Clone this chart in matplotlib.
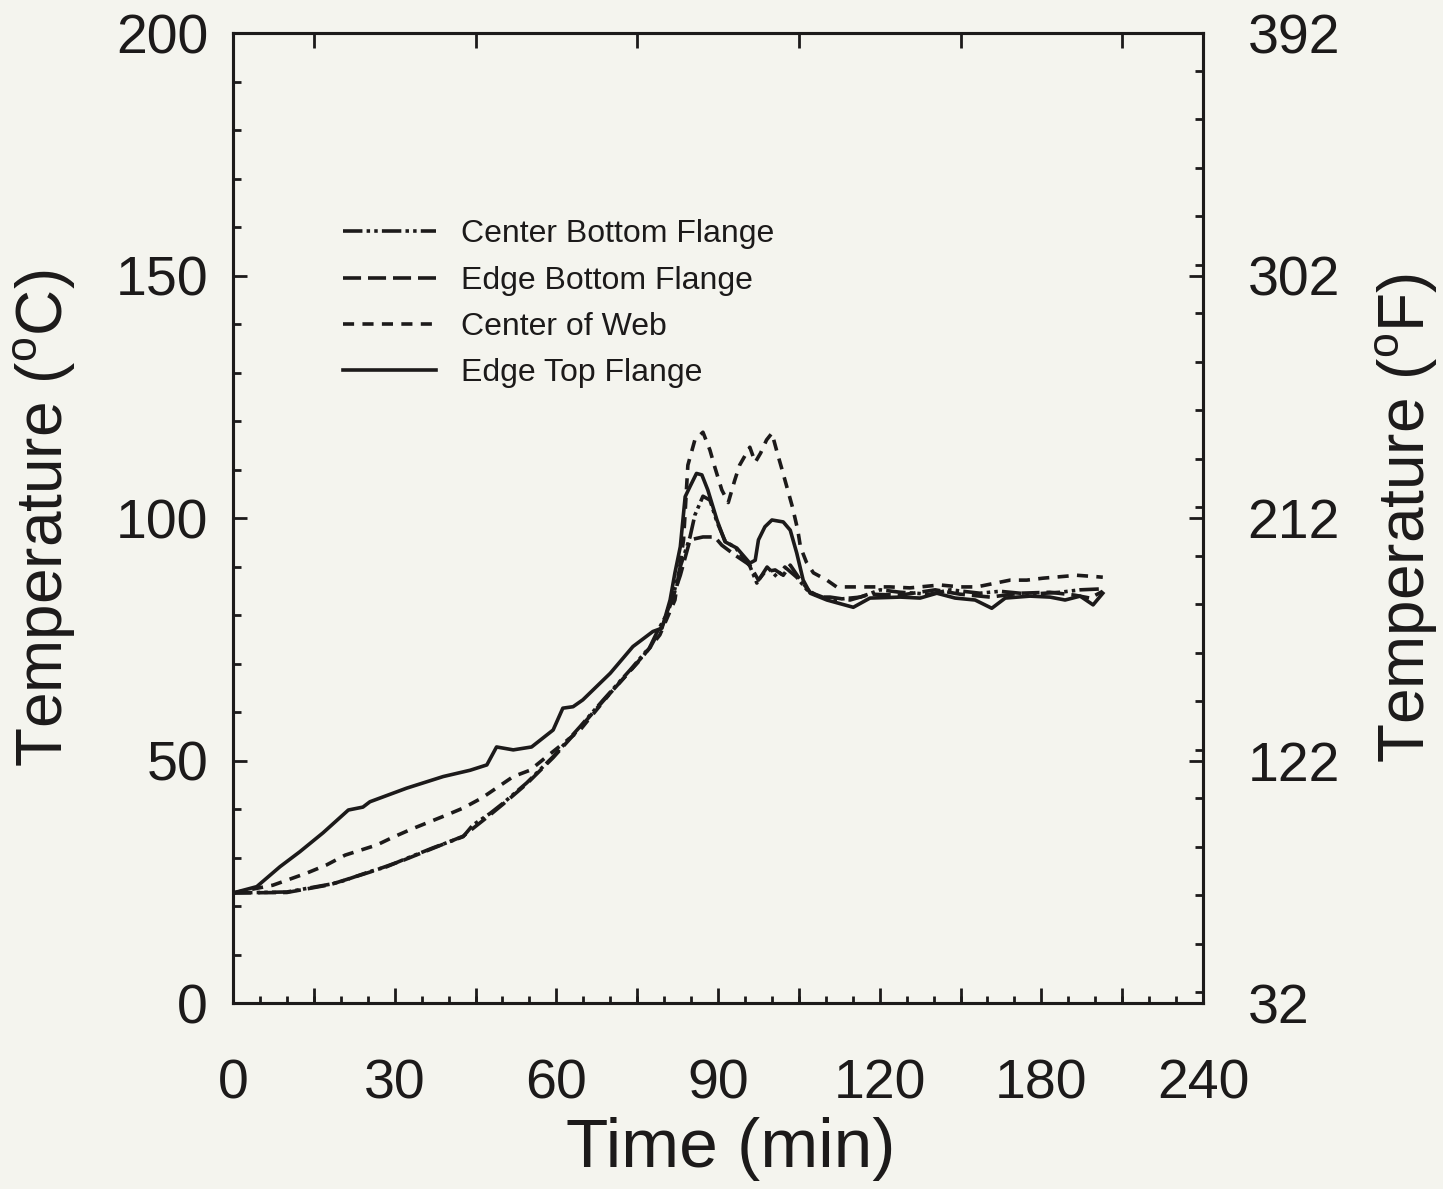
import matplotlib
matplotlib.use("Agg")
import matplotlib.pyplot as plt
from matplotlib.ticker import MultipleLocator, FixedLocator

plt.rcParams["font.family"] = ["Liberation Sans", "DejaVu Sans"]
plt.rcParams["mathtext.fontset"] = "custom"
plt.rcParams["mathtext.rm"] = "Liberation Sans"
plt.rcParams["lines.scale_dashes"] = False

# ---- data: time (min, plotted on the 0-180 position scale) and temperature (deg C)
top_t = [0, 4.4, 8.7, 12.4, 16.7, 21.4, 24.1, 25.4, 32.2, 39.0, 44.0, 47.1, 48.9, 52.0,
         55.4, 59.4, 61.2, 63.1, 64.9, 70.0, 74.2, 77.9, 79.6, 81.1, 82.0, 83.0, 83.9,
         84.8, 86.0, 87.0, 88.1, 89.8, 91.3, 93.5, 95.9, 96.9, 97.5, 98.7, 100.0, 102.1,
         103.4, 104.6, 105.8, 107.1, 110.2, 112.8, 115.1, 118.2, 123.8, 127.5, 130.6,
         134.0, 137.7, 140.8, 143.3, 147.9, 151.6, 154.4, 157.2, 159.6, 161.4]
top_T = [22.7, 24.0, 28.1, 31.2, 35.1, 39.8, 40.4, 41.5, 44.3, 46.7, 48.0, 49.1, 52.8, 52.2,
         52.8, 56.3, 60.8, 61.1, 62.5, 68.0, 73.5, 76.6, 77.3, 83.1, 88.7, 94.1, 104.4,
         106.5, 109.2, 108.9, 105.8, 99.6, 95.1, 93.8, 90.7, 91.3, 95.5, 98.2, 99.6, 99.2,
         97.5, 92.8, 87.2, 84.5, 83.1, 82.3, 81.6, 83.5, 83.7, 83.5, 84.5,
         83.5, 83.1, 81.4, 83.5, 83.9, 83.7, 83.1, 83.9, 82.1, 84.5]

cbf_t = [0, 10.0, 18.0, 19.9, 25.4, 28.5, 31.5, 37.1, 42.7, 44.5, 47.7, 50.1, 54.5, 59.4,
         64.4, 68.7, 73.7, 77.4, 78.6, 80.2, 81.7, 83.0, 84.8, 85.7, 87.2, 88.5, 89.8,
         91.3, 93.3, 95.9, 97.2, 99.1, 101.0, 102.4, 104.6, 106.5, 108.0, 110.8, 116.4,
         120.1, 123.8, 129.3, 133.1, 138.6, 142.3, 147.9, 153.5, 157.2, 161.4]
cbf_T = [22.7, 22.9, 24.5, 25.0, 27.1, 28.1, 29.5, 32.0, 34.3, 36.7, 39.1, 41.2, 45.4, 50.8,
         57.0, 62.5, 68.7, 73.5, 76.3, 79.6, 84.1, 90.0, 96.1, 100.6, 104.5, 103.7, 99.2,
         95.3, 93.8, 90.1, 86.6, 89.9, 87.8, 89.9, 87.8, 85.2, 84.3, 83.1, 83.7,
         85.2, 84.7, 84.3, 85.2, 84.5, 84.9, 84.3, 84.7, 85.2, 85.4]

ebf_t = [0, 10.0, 18.0, 25.4, 31.5, 37.1, 42.7, 47.7, 50.1, 54.5, 59.4, 64.4, 68.7, 73.7,
         77.4, 80.2, 83.0, 84.8, 87.2, 89.4, 90.7, 93.1, 95.9, 97.5, 98.7, 100.6, 102.1,
         103.4, 105.3, 107.1, 109.0, 110.8, 114.5, 118.2, 123.8, 130.3, 134.9, 140.5,
         146.0, 151.6, 156.2, 159.0, 161.4]
ebf_T = [22.7, 22.8, 24.4, 27.0, 29.4, 31.9, 34.4, 38.8, 41.0, 45.2, 50.6, 56.8, 62.3, 68.5,
         73.3, 79.0, 88.2, 95.5, 96.1, 96.1, 94.4, 92.4, 90.3, 87.2, 88.9, 89.3, 88.2,
         90.3, 87.2, 84.7, 83.7, 83.7, 83.1, 84.3, 84.1, 85.2, 84.3, 83.7,
         84.5, 84.7, 84.1, 83.5, 84.9]

web_t = [0, 7.4, 13.7, 17.4, 20.8, 26.7, 29.7, 33.2, 39.7, 42.7, 46.2, 52.0, 55.1, 58.2,
         64.4, 70.0, 75.5, 79.2, 82.0, 83.6, 84.4, 85.7, 87.2, 88.5, 89.4, 90.7, 91.9,
         93.1, 94.0, 95.9, 96.9, 97.9, 99.0, 100.0, 101.0, 101.9, 103.8, 104.8, 105.3,
         106.4, 107.7, 110.2, 112.0, 118.2, 121.9, 125.6, 131.2, 134.9, 138.0, 144.2,
         147.3, 150.3, 156.6, 160.3, 161.4]
web_T = [22.7, 24.3, 26.8, 28.5, 30.5, 32.6, 34.2, 35.9, 38.8, 40.2, 42.3, 46.7, 48.0, 50.8,
         56.3, 63.9, 70.7, 75.9, 83.1, 95.5, 110.9, 116.1, 117.7, 114.0, 110.5, 105.8, 103.2,
         107.8, 110.9, 114.6, 111.5, 113.4, 116.1, 117.5, 113.4, 109.9, 102.3, 97.5, 94.0,
         90.9, 88.7, 87.2, 85.8, 85.8, 85.8, 85.6, 86.2, 85.8, 85.8, 87.2,
         87.2, 87.6, 88.2, 87.9, 87.8]

series_names = ["Center Bottom Flange", "Edge Bottom Flange", "Center of Web", "Edge Top Flange"]

x_tick_pos = [0, 30, 60, 90, 120, 150, 180]
x_tick_labels = ["0", "30", "60", "90", "120", "180", "240"]
c_ticks = [0, 50, 100, 150, 200]
f_ticks = [32, 122, 212, 302, 392]

bg = "#f4f4ee"
ink = "#1c1a1a"

fig = plt.figure(figsize=(14.43, 11.89), dpi=100, facecolor=bg)
ax = fig.add_axes([0.1615, 0.1564, 0.6722, 0.8158], facecolor=bg)

lw = 2.6
styles = [
    (cbf_t, cbf_T, (0, (14, 3, 2.5, 3, 2.5, 3))),
    (ebf_t, ebf_T, (0, (13, 5))),
    (web_t, web_T, (0, (8, 6))),
    (top_t, top_T, "solid"),
]
for (t, T, ls), name in zip(styles, series_names):
    ax.plot(t, T, color=ink, lw=lw, linestyle=ls, label=name,
            solid_joinstyle="round", dash_joinstyle="round")

ax.set_xlim(0, 180)
ax.set_ylim(0, 200)

ax.xaxis.set_major_locator(FixedLocator(x_tick_pos))
ax.set_xticklabels(x_tick_labels)
ax.yaxis.set_major_locator(FixedLocator(c_ticks))
ax.yaxis.set_minor_locator(MultipleLocator(10))
ax.xaxis.set_minor_locator(FixedLocator([v for v in range(0, 181, 5) if v % 30 != 0]))

ax.tick_params(axis="x", which="major", direction="in", length=11, width=2,
               top=True, bottom=True, labelsize=40, pad=40, colors=ink)
ax.tick_params(axis="x", which="minor", direction="in", length=5, width=2,
               top=True, bottom=True, colors=ink)
ax.tick_params(axis="y", which="major", direction="in", length=10, width=2,
               left=True, right=False, labelsize=40, pad=18, colors=ink)
ax.tick_params(axis="y", which="minor", direction="in", length=6, width=2,
               left=True, right=False, colors=ink)

# long ticks every 15 min, in between the labelled ones
ax15 = ax.twiny()
ax15.set_xlim(0, 180)
ax15.xaxis.set_major_locator(FixedLocator(list(range(15, 180, 30))))
ax15.xaxis.set_minor_locator(FixedLocator([]))
ax15.tick_params(axis="x", which="major", direction="in", length=11, width=2,
                 top=True, bottom=True, labeltop=False, labelbottom=False, colors=ink)
for s in ax15.spines.values():
    s.set_visible(False)

axr = ax.twinx()
axr.set_ylim(32, 392)
axr.yaxis.set_major_locator(FixedLocator(f_ticks))
axr.yaxis.set_minor_locator(MultipleLocator(18))
axr.tick_params(axis="y", which="major", direction="in", length=10, width=2,
                labelsize=40, pad=32, colors=ink)
axr.tick_params(axis="y", which="minor", direction="in", length=6, width=2, colors=ink)

for a in (ax, axr):
    for s in a.spines.values():
        s.set_linewidth(2.2)
        s.set_color(ink)

ax.set_xlabel("Time (min)", fontsize=50, color=ink, labelpad=0)
ax.xaxis.set_label_coords(0.513, -0.118)
ax.set_ylabel(r"Temperature ($^{\rm o}$C)", fontsize=46, color=ink, labelpad=28)
axr.set_ylabel(r"Temperature ($^{\rm o}$F)", fontsize=46, color=ink, labelpad=24)

leg = ax.legend(loc="upper left", bbox_to_anchor=(0.084, 0.8375), frameon=False,
                fontsize=23, handlelength=2.91, handletextpad=0.78, labelspacing=0.51)
for txt in leg.get_texts():
    txt.set_color(ink)

fig.savefig("out.png", dpi=100, facecolor=bg)
